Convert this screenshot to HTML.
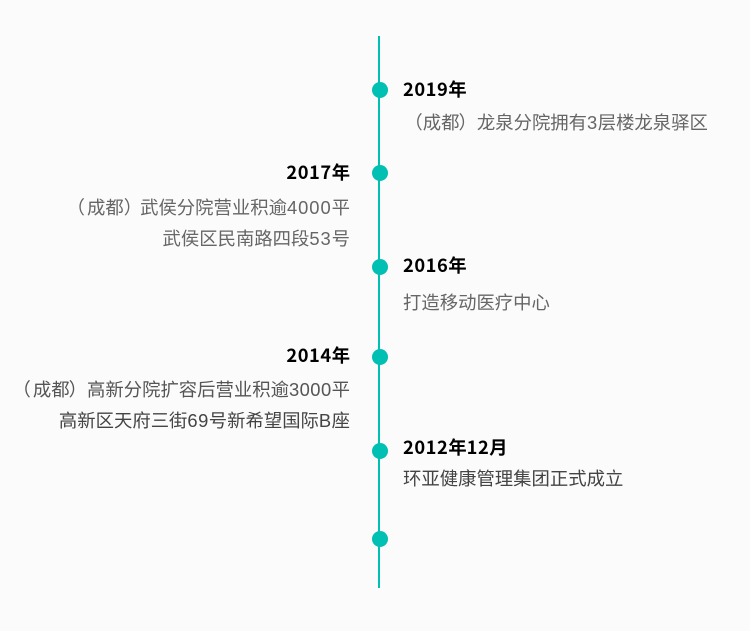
<!DOCTYPE html>
<html><head><meta charset="utf-8"><style>
html,body{margin:0;padding:0;background:#fbfbfb}
body{width:750px;height:631px;position:relative;overflow:hidden;font-family:"Liberation Sans","Noto Sans CJK SC",sans-serif}
.l{position:absolute;left:378px;top:36px;width:2px;height:552px;background:#00bfb3}
.d{position:absolute;left:372px;width:16px;height:16px;border-radius:50%;background:#00bfb3}
.t{position:absolute;white-space:nowrap;line-height:24px}
.h{font-size:18.3px;font-weight:bold;color:#000;font-family:"Noto Sans CJK SC",sans-serif}
.h i{letter-spacing:.55px}
.p{font-size:18.36px;color:#666}
.r{right:400px;text-align:right}
.a{left:403px}
i{font-style:normal;letter-spacing:.45px}
u{text-decoration:none;position:relative}
</style></head><body>
<div class="l"></div>
<div class="d" style="top:82px"></div>
<div class="d" style="top:165px"></div>
<div class="d" style="top:259px"></div>
<div class="d" style="top:349px"></div>
<div class="d" style="top:443px"></div>
<div class="d" style="top:531px"></div>
<div class="t h a" style="top:77px"><i>2019</i>年</div>
<div class="t p" style="left:403.4px;top:111px"><u style="left:1px">（</u><u style="left:1px">成都</u>）龙泉分院拥有<i>3</i>层楼龙泉驿区</div>
<div class="t h r" style="top:160px"><i>2017</i>年</div>
<div class="t p r" style="top:196px"><u style="left:0px">（</u><u style="left:2px">成都）</u>武侯分院营业积逾<i style="letter-spacing:.95px">4000</i>平</div>
<div class="t p r" style="top:227px">武侯区民南路四段<i style="letter-spacing:.9px">53</i>号</div>
<div class="t h a" style="top:253px"><i>2016</i>年</div>
<div class="t p a" style="top:291px">打造移动医疗中心</div>
<div class="t h r" style="top:343px"><i>2014</i>年</div>
<div class="t p r" style="top:378px;color:#555"><u style="left:-1px">（</u><u style="left:1px">成都</u>）高新分院扩容后营业积逾<i>3000</i>平</div>
<div class="t p r" style="top:409px;color:#444">高新区天府三街<i>69</i>号新希望国际<i>B</i>座</div>
<div class="t h a" style="top:435px"><i>2012</i>年<i>12</i>月</div>
<div class="t p a" style="top:467px;color:#444">环亚健康管理集团正式成立</div>
</body></html>
